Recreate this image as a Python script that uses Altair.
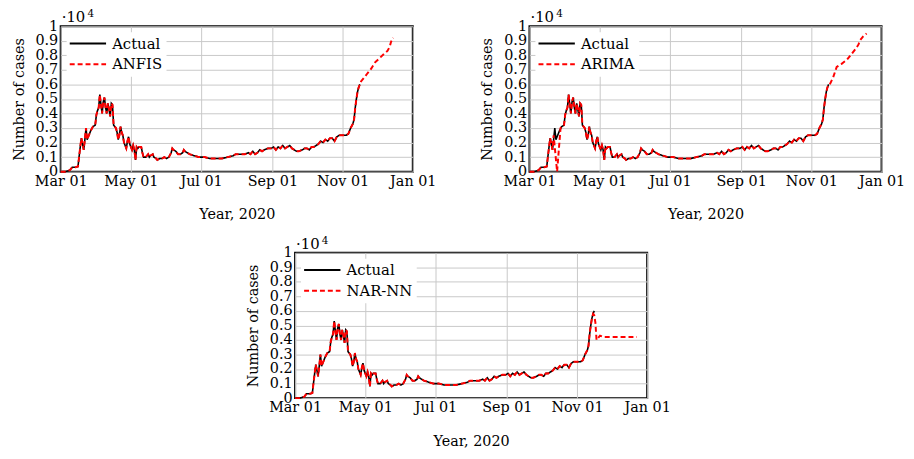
import altair as alt
import pandas as pd
from datetime import date, timedelta

# ---- data (values in units of 10^4 cases), day offsets from 2020-03-01 ----
actual_days = [0, 4, 8, 10, 13, 15, 17, 18, 19, 20, 21, 22, 23, 24, 26, 28, 30, 31, 32, 33,
               34, 35, 36, 37, 38, 39, 40, 41, 42, 43, 44, 45, 46, 47, 48, 49, 50, 51, 52, 53,
               54, 55, 56, 57, 58, 59, 60, 61, 62, 63, 64, 65, 66, 67, 68, 70, 71, 72, 74, 76,
               77, 78, 80, 81, 83, 84, 86, 88, 90, 92, 94, 96, 97, 98, 100, 102, 104, 106, 107, 108,
               110, 112, 116, 120, 125, 130, 135, 140, 145, 150, 152, 156, 160, 163, 165, 167, 169, 171, 173, 175,
               177, 180, 183, 185, 187, 189, 191, 193, 195, 197, 199, 201, 203, 205, 207, 210, 212, 214, 216, 218,
               220, 222, 224, 226, 228, 230, 232, 234, 236, 238, 240, 242, 244, 246, 248, 250, 252, 254, 255, 256,
               257, 258, 259, 260]
actual_vals = [0.00, 0.00, 0.01, 0.03, 0.03, 0.035, 0.17, 0.23, 0.19, 0.15, 0.22, 0.30, 0.22, 0.24, 0.28, 0.31, 0.32, 0.39, 0.42, 0.44,
               0.53, 0.46, 0.40, 0.48, 0.51, 0.44, 0.40, 0.47, 0.43, 0.38, 0.47, 0.46, 0.32, 0.31, 0.30, 0.27, 0.22, 0.25, 0.31, 0.27,
               0.25, 0.20, 0.18, 0.16, 0.21, 0.24, 0.19, 0.17, 0.15, 0.18, 0.15, 0.08, 0.17, 0.16, 0.17, 0.17, 0.13, 0.10, 0.10, 0.12,
               0.10, 0.11, 0.12, 0.10, 0.09, 0.08, 0.09, 0.09, 0.10, 0.09, 0.10, 0.13, 0.16, 0.15, 0.14, 0.12, 0.12, 0.13, 0.15, 0.14,
               0.13, 0.12, 0.11, 0.10, 0.10, 0.09, 0.09, 0.09, 0.10, 0.11, 0.12, 0.12, 0.12, 0.13, 0.12, 0.14, 0.12, 0.13, 0.15, 0.14,
               0.15, 0.16, 0.16, 0.17, 0.15, 0.17, 0.16, 0.18, 0.16, 0.17, 0.18, 0.16, 0.15, 0.14, 0.14, 0.15, 0.16, 0.16, 0.15, 0.17,
               0.17, 0.18, 0.19, 0.21, 0.20, 0.22, 0.21, 0.23, 0.23, 0.21, 0.24, 0.25, 0.25, 0.25, 0.25, 0.26, 0.30, 0.33, 0.36, 0.44,
               0.50, 0.55, 0.58, 0.60]

anfis_fc_days = [261, 264, 266, 270, 273, 277, 281, 284, 286, 287, 288, 289]
anfis_fc_vals = [0.62, 0.65, 0.67, 0.71, 0.75, 0.78, 0.81, 0.83, 0.86, 0.89, 0.91, 0.92]

# ARIMA: early spurious drop to zero, then the forecast tail
arima_skip_days = [22, 23, 24, 26]
arima_dip_days = [21, 24, 27]
arima_dip_vals = [0.25, 0.00, 0.30]
arima_fc_days = [261, 264, 267, 271, 276, 280, 284, 286, 287, 290, 293]
arima_fc_vals = [0.60, 0.65, 0.72, 0.74, 0.77, 0.81, 0.85, 0.875, 0.90, 0.93, 0.95]

narnn_cut_day = 259
narnn_fc_days = [260, 261, 262, 263, 265, 268, 297]
narnn_fc_vals = [0.57, 0.52, 0.40, 0.41, 0.43, 0.42, 0.42]

x_ticks = ["2020-03-01", "2020-05-01", "2020-07-01", "2020-09-01", "2020-11-01", "2021-01-01"]
y_ticks = [0, 0.1, 0.2, 0.3, 0.4, 0.5, 0.6, 0.7, 0.8, 0.9, 1]

FONT = "DejaVu Serif"
FS = 14.5
W, H = 356, 147


def iso(d):
    return (date(2020, 3, 1) + timedelta(days=d)).isoformat()


def dt(s):
    y, m, d = map(int, s.split("-"))
    return alt.DateTime(year=y, month=m, date=d, utc=True)


def panel(name, pred_days, pred_vals):
    df_a = pd.DataFrame({"date": [iso(d) for d in actual_days], "value": actual_vals, "series": "Actual"})
    df_p = pd.DataFrame({"date": [iso(d) for d in pred_days], "value": pred_vals, "series": name})
    dom = ["Actual", name]
    leg = alt.Legend(title=None, orient="top-left", offset=6, padding=4, fillColor="white",
                     labelFont=FONT, labelFontSize=15, labelColor="black",
                     symbolType="M-3,0H3", symbolSize=150, symbolStrokeWidth=2,
                     symbolOffset=10, rowPadding=5, labelOffset=17)
    color = alt.Color("series:N", scale=alt.Scale(domain=dom, range=["black", "red"]), legend=leg)
    dash = alt.StrokeDash("series:N", scale=alt.Scale(domain=dom, range=[[1, 0], [5, 3]]), legend=leg)
    x = alt.X("date:T",
              scale=alt.Scale(type="utc", domain=[dt("2020-03-01"), dt("2021-01-01")]),
              axis=alt.Axis(title="Year, 2020", values=[dt(s) for s in x_ticks], format="%b %d",
                            labelFlush=False, labelOverlap=False, labelPadding=3, titlePadding=20))
    y = alt.Y("value:Q", scale=alt.Scale(domain=[0, 1], nice=False),
              axis=alt.Axis(title="Number of cases", values=y_ticks,
                            labelExpr="datum.value == 0 ? '0' : datum.value == 1 ? '1' : format(datum.value, '.1f')",
                            labelPadding=3, titlePadding=9))
    base_a = alt.Chart(df_a).mark_line(strokeWidth=1.6).encode(x=x, y=y, color=color, strokeDash=dash)
    base_p = alt.Chart(df_p).mark_line(strokeWidth=2).encode(x=x, y=y, color=color, strokeDash=dash)
    mult = alt.Chart(pd.DataFrame({"t": ["·10"]})).mark_text(
        font=FONT, fontSize=15, align="left", baseline="alphabetic", color="black"
    ).encode(x=alt.value(1), y=alt.value(-4), text="t:N")
    sup = alt.Chart(pd.DataFrame({"t": ["4"]})).mark_text(
        font=FONT, fontSize=10.5, align="left", baseline="alphabetic", color="black"
    ).encode(x=alt.value(27), y=alt.value(-9), text="t:N")
    return alt.layer(base_a, base_p, mult, sup).properties(width=W, height=H)


pred_anfis_days = actual_days + anfis_fc_days
pred_anfis_vals = actual_vals + anfis_fc_vals

arima_pts = {d: v for d, v in zip(actual_days, actual_vals) if d not in arima_skip_days}
arima_pts.update(dict(zip(arima_dip_days, arima_dip_vals)))
arima_pts.update(dict(zip(arima_fc_days, arima_fc_vals)))
pred_arima_days = sorted(arima_pts)
pred_arima_vals = [arima_pts[d] for d in pred_arima_days]

pred_narnn_days = [d for d in actual_days if d <= narnn_cut_day] + narnn_fc_days
pred_narnn_vals = [v for d, v in zip(actual_days, actual_vals) if d <= narnn_cut_day] + narnn_fc_vals

top = alt.hconcat(panel("ANFIS", pred_anfis_days, pred_anfis_vals),
                  panel("ARIMA", pred_arima_days, pred_arima_vals), spacing=41
                  ).resolve_scale(color="independent", strokeDash="independent"
                  ).resolve_legend(color="independent", strokeDash="independent")
chart = alt.vconcat(top, panel("NAR-NN", pred_narnn_days, pred_narnn_vals), spacing=13, center=True
                    ).resolve_scale(color="independent", strokeDash="independent"
                    ).resolve_legend(color="independent", strokeDash="independent")

chart = chart.properties(padding={"left": 2, "top": -2, "right": 0, "bottom": 0}).configure_view(
    stroke="black", strokeWidth=2
).configure_axis(
    labelFont=FONT, labelFontSize=FS, labelColor="black", titleFont=FONT, titleFontSize=14.5,
    titleFontWeight="normal", titleColor="black", domain=False, ticks=False,
    grid=True, gridColor="#c8c8c8", gridWidth=1
)

chart.save("out.html", embed_options={"renderer": "svg", "actions": False})
